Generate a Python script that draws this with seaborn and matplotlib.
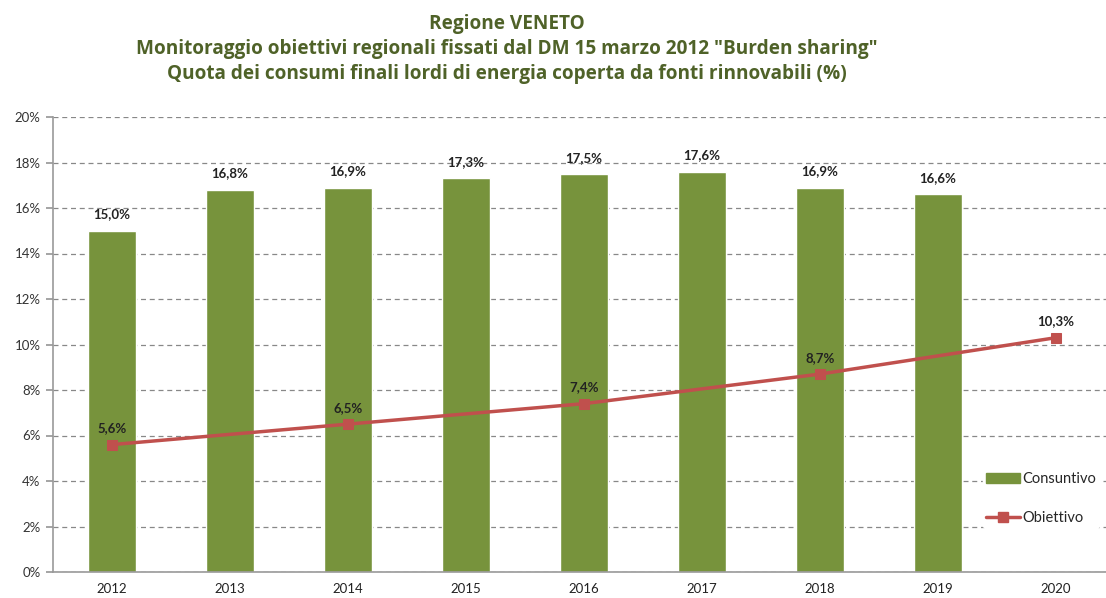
import numpy as np
import pandas as pd
import seaborn as sns
import matplotlib.pyplot as plt
from matplotlib.lines import Line2D
from matplotlib.patches import Patch

# Data
years = ["2012", "2013", "2014", "2015", "2016", "2017", "2018", "2019", "2020"]
consuntivo_years = ["2012", "2013", "2014", "2015", "2016", "2017", "2018", "2019"]
consuntivo = [15.0, 16.8, 16.9, 17.3, 17.5, 17.6, 16.9, 16.6]
obiettivo_years = ["2012", "2014", "2016", "2018", "2020"]
obiettivo = [5.6, 6.5, 7.4, 8.7, 10.3]

green = "#77933C"
red = "#C0504D"
title_col = "#4F6228"

sns.set_theme(style="white")
plt.rcParams["font.family"] = ["Lato", "DejaVu Sans"]

fig = plt.figure(figsize=(11.06, 5.98), dpi=100)
ax = fig.add_axes([53 / 1106, 26 / 598, 1062 / 1106, 455 / 598])

df_bar = pd.DataFrame({"anno": consuntivo_years, "quota": consuntivo})
sns.barplot(data=df_bar, x="anno", y="quota", order=years, color=green,
            saturation=1, width=0.4, ax=ax, zorder=2)

# line positions follow the categorical axis
df_line = pd.DataFrame({"pos": [years.index(y) for y in obiettivo_years], "quota": obiettivo})
sns.lineplot(data=df_line, x="pos", y="quota", color=red, lw=2.5, marker="s",
             markersize=7, markeredgecolor=red, ax=ax, zorder=3)

def fmt(v):
    return f"{v:.1f}%".replace(".", ",")

for i, v in enumerate(consuntivo):
    ax.text(i, v + 0.45, fmt(v), ha="center", va="bottom", fontsize=9.5,
            fontweight="bold", color="#222222")
for p, v in zip(df_line["pos"], obiettivo):
    ax.text(p, v + 0.45, fmt(v), ha="center", va="bottom", fontsize=9.5,
            fontweight="bold", color="#222222")

ax.set_xlim(-0.5, 8.5)
ax.set_ylim(0, 20)
ax.set_yticks(range(0, 21, 2))
ax.set_yticklabels([f"{t}%" for t in range(0, 21, 2)], fontsize=9.5, color="#333333")
ax.set_xticks(range(len(years)))
ax.set_xticklabels(years, fontsize=9.5, color="#222222")
ax.set_xticks(np.arange(-0.5, 8.6, 1), minor=True)
ax.tick_params(axis="x", which="major", length=0, pad=8)
ax.tick_params(axis="x", which="minor", length=5, color="#999999", direction="out")
ax.tick_params(axis="y", length=5, color="#999999", direction="out", pad=4, left=True)
ax.set_xlabel("")
ax.set_ylabel("")

ax.yaxis.grid(True, linestyle=(0, (4, 3)), color="#888888", lw=0.9, zorder=0)
ax.set_axisbelow(True)
for s in ["top", "right"]:
    ax.spines[s].set_visible(False)
for s in ["left", "bottom"]:
    ax.spines[s].set_color("#999999")
    ax.spines[s].set_linewidth(1.2)

title_font = ["Open Sans", "DejaVu Sans"]
title_x = 507 / 1106
fig.text(title_x, 0.960, "Regione VENETO", ha="center", va="center", fontsize=13.7,
         fontweight="bold", color=title_col, family=title_font)
fig.text(title_x, 0.918, 'Monitoraggio obiettivi regionali fissati dal DM 15 marzo 2012 "Burden sharing"',
         ha="center", va="center", fontsize=13.7, fontweight="bold", color=title_col,
         family=title_font)
fig.text(title_x, 0.876, "Quota dei consumi finali lordi di energia coperta da fonti rinnovabili (%)",
         ha="center", va="center", fontsize=13.7, fontweight="bold", color=title_col,
         family=title_font)

handles = [Patch(facecolor=green, edgecolor=green),
           Line2D([0], [0], color=red, lw=2.5, marker="s", markersize=7)]
leg = fig.legend(handles, ["Consuntivo", "Obiettivo"], loc="upper left",
                 bbox_to_anchor=(976 / 1106, 1 - 462 / 598), frameon=True,
                 facecolor="white", edgecolor="white", framealpha=1,
                 fontsize=10.5, labelspacing=1.7, handlelength=2.3,
                 handletextpad=0.15, borderpad=0.2)

fig.savefig("out.png", dpi=100)
